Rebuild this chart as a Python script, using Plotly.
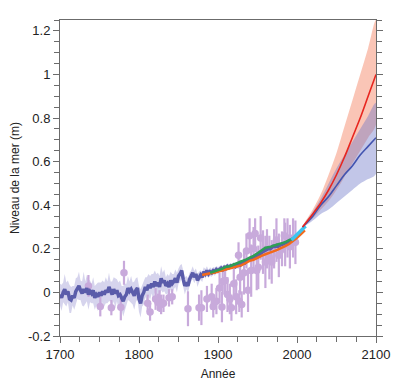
import plotly.graph_objects as go

# ---------------- data ----------------
# reconstruction (tide-gauge based), 1700-2000, every 2 years
rec_years = list(range(1700, 2001, 2))
rec_vals = [
    -0.010, -0.025, 0.000, 0.015, -0.010, 0.005, -0.030, -0.035, -0.015, -0.025,
    0.005, 0.020, 0.030, 0.010, -0.005, 0.015, 0.000, 0.020, -0.010, 0.005,
    -0.005, 0.010, -0.025, -0.010, -0.020, 0.000, -0.015, 0.005, -0.010, 0.010,
    0.000, 0.025, 0.005, -0.010, 0.015, -0.005, 0.010, -0.015, -0.010, -0.025,
    -0.040, -0.020, -0.010, 0.020, 0.005, 0.015, -0.005, -0.015, 0.010, 0.020,
    -0.030, -0.050, -0.015, 0.000, 0.025, 0.010, 0.035, 0.020, 0.040, 0.025,
    0.050, 0.030, 0.045, 0.025, 0.065, 0.045, 0.055, 0.030, 0.040, 0.025,
    0.055, 0.040, 0.050, 0.065, 0.045, 0.075, 0.085, 0.100, 0.060, 0.030,
    0.045, 0.030, 0.060, 0.075, 0.090, 0.070, 0.085, 0.055, 0.070, 0.080,
    0.070, 0.095, 0.085, 0.100, 0.085, 0.095, 0.090, 0.100, 0.095, 0.105,
    0.100, 0.108, 0.112, 0.105, 0.115, 0.110, 0.120, 0.115, 0.122, 0.118,
    0.125, 0.118, 0.122, 0.128, 0.125, 0.132, 0.138, 0.135, 0.145, 0.150,
    0.152, 0.158, 0.155, 0.162, 0.168, 0.165, 0.175, 0.180, 0.185, 0.190,
    0.195, 0.198, 0.202, 0.200, 0.208, 0.212, 0.210, 0.215, 0.212, 0.218,
    0.220, 0.222, 0.225, 0.228, 0.230, 0.232, 0.238, 0.242, 0.248, 0.252,
    0.262,
]
rec_unc = [
    0.050, 0.060, 0.045, 0.070, 0.055, 0.050, 0.065, 0.060, 0.045, 0.055,
    0.060, 0.050, 0.065, 0.045, 0.055, 0.080, 0.050, 0.060, 0.070, 0.050,
    0.045, 0.060, 0.055, 0.050, 0.065, 0.045, 0.060, 0.050, 0.055, 0.060,
    0.050, 0.065, 0.045, 0.060, 0.055, 0.070, 0.050, 0.060, 0.065, 0.055,
    0.070, 0.060, 0.050, 0.055, 0.045, 0.060, 0.050, 0.065, 0.055, 0.050,
    0.060, 0.065, 0.050, 0.055, 0.045, 0.060, 0.050, 0.055, 0.045, 0.060,
    0.050, 0.055, 0.045, 0.050, 0.055, 0.045, 0.050, 0.040, 0.045, 0.050,
    0.040, 0.045, 0.035, 0.040, 0.045, 0.035, 0.040, 0.030, 0.035, 0.040,
    0.030, 0.035, 0.030, 0.025, 0.030, 0.028, 0.025, 0.030, 0.025, 0.022,
    0.022, 0.020, 0.022, 0.020, 0.018, 0.020, 0.018, 0.017, 0.018, 0.016,
    0.016, 0.015, 0.015, 0.015, 0.014, 0.014, 0.014, 0.013, 0.013, 0.013,
    0.013, 0.012, 0.012, 0.012, 0.012, 0.012, 0.011, 0.011, 0.011, 0.011,
    0.011, 0.011, 0.010, 0.010, 0.010, 0.010, 0.010, 0.010, 0.010, 0.010,
    0.010, 0.010, 0.010, 0.010, 0.010, 0.010, 0.010, 0.010, 0.010, 0.010,
    0.010, 0.010, 0.010, 0.010, 0.010, 0.010, 0.010, 0.010, 0.010, 0.010,
    0.010,
]

# paleo / salt-marsh data points with error bars
paleo_years = [1736, 1751, 1765, 1777, 1781, 1811, 1814, 1821, 1824, 1826,
               1828, 1831, 1838, 1842, 1862, 1876, 1879, 1886, 1892, 1894,
               1898, 1902, 1905, 1906, 1909, 1912, 1915, 1917, 1920, 1923,
               1926, 1927, 1928, 1930, 1933, 1936, 1938, 1940, 1942, 1945,
               1947, 1949, 1951, 1954, 1957, 1960, 1962, 1965, 1968, 1971,
               1974, 1977, 1981, 1984, 1985, 1988, 1991, 1995, 1998]
paleo_vals = [0.030, -0.065, -0.070, -0.068, 0.090, -0.050, -0.090, -0.030, -0.045, -0.040,
              -0.055, -0.050, -0.025, -0.020, -0.075, -0.070, -0.070, -0.030, -0.020, -0.065,
              -0.040, 0.020, -0.067, 0.050, 0.055, -0.010, -0.030, -0.070, 0.040, -0.020,
              0.170, -0.040, 0.070, -0.055, 0.090, 0.190, 0.010, 0.260, 0.100, 0.200,
              0.270, 0.100, 0.115, 0.250, 0.185, 0.140, 0.200, 0.160, 0.140, 0.200,
              0.240, 0.170, 0.200, 0.260, 0.220, 0.250, 0.210, 0.250, 0.230]
paleo_err = [0.050, 0.045, 0.035, 0.060, 0.055, 0.040, 0.040, 0.050, 0.040, 0.050,
             0.045, 0.040, 0.040, 0.035, 0.080, 0.060, 0.080, 0.060, 0.060, 0.050,
             0.060, 0.070, 0.070, 0.060, 0.070, 0.080, 0.070, 0.060, 0.070, 0.080,
             0.060, 0.050, 0.080, 0.060, 0.100, 0.080, 0.100, 0.080, 0.120, 0.100,
             0.070, 0.090, 0.100, 0.100, 0.100, 0.120, 0.090, 0.100, 0.100, 0.090,
             0.100, 0.100, 0.080, 0.080, 0.100, 0.090, 0.100, 0.090, 0.100]

# tide-gauge reconstructions
green_years = list(range(1890, 1996, 5))
green_vals = [0.090, 0.095, 0.100, 0.108, 0.118, 0.120, 0.128, 0.135, 0.140, 0.150,
              0.160, 0.168, 0.180, 0.192, 0.205, 0.208, 0.215, 0.220, 0.225, 0.230,
              0.240, 0.248]
orange_years = list(range(1880, 2011, 5))
orange_vals = [0.080, 0.085, 0.088, 0.090, 0.095, 0.100, 0.105, 0.110, 0.112, 0.118,
               0.125, 0.135, 0.145, 0.150, 0.160, 0.168, 0.175, 0.180, 0.188, 0.195,
               0.202, 0.212, 0.222, 0.235, 0.250, 0.268, 0.285]
# satellite altimetry
cyan_years = [1993, 1995, 1997, 1999, 2001, 2003, 2005, 2007, 2009, 2011]
cyan_vals = [0.240, 0.248, 0.253, 0.258, 0.268, 0.276, 0.283, 0.290, 0.298, 0.304]

# projections
proj_years = [2007, 2020, 2030, 2040, 2050, 2060, 2070, 2080, 2090, 2100]
rcp85_mid = [0.30, 0.36, 0.41, 0.47, 0.54, 0.62, 0.71, 0.80, 0.90, 1.00]
rcp85_hi = [0.30, 0.38, 0.45, 0.54, 0.64, 0.76, 0.88, 1.00, 1.12, 1.25]
rcp85_lo = [0.30, 0.34, 0.38, 0.42, 0.47, 0.53, 0.59, 0.65, 0.71, 0.77]
rcp26_mid = [0.30, 0.35, 0.40, 0.44, 0.49, 0.54, 0.58, 0.63, 0.67, 0.71]
rcp26_hi = [0.30, 0.37, 0.43, 0.50, 0.57, 0.63, 0.69, 0.75, 0.81, 0.87]
rcp26_lo = [0.30, 0.33, 0.36, 0.38, 0.41, 0.44, 0.47, 0.50, 0.52, 0.545]

x_ticks = [1700, 1800, 1900, 2000, 2100]
y_ticks = [-0.2, 0, 0.2, 0.4, 0.6, 0.8, 1, 1.2]
y_ticklabels = ["-0.2", "0", "0.2", "0.4", "0.6", "0.8", "1", "1.2"]

# ---------------- figure ----------------
fig = go.Figure()

rec_hi = [v + u for v, u in zip(rec_vals, rec_unc)]
rec_lo = [v - u for v, u in zip(rec_vals, rec_unc)]
fig.add_trace(go.Scatter(
    x=rec_years + rec_years[::-1], y=rec_hi + rec_lo[::-1],
    fill="toself", fillcolor="rgba(165,160,215,0.45)",
    line=dict(width=0), mode="lines", hoverinfo="skip", showlegend=False))

fig.add_trace(go.Scatter(
    x=paleo_years, y=paleo_vals, mode="markers",
    marker=dict(size=7.5, color="#c8aadb"),
    error_y=dict(type="data", array=paleo_err, color="#c8aadb", thickness=2.2, width=0),
    showlegend=False))

fig.add_trace(go.Scatter(x=rec_years, y=rec_vals, mode="lines",
                         line=dict(color="#5a5caa", width=3.5), showlegend=False))
fig.add_trace(go.Scatter(x=orange_years, y=orange_vals, mode="lines",
                         line=dict(color="#f26a1b", width=2.5), showlegend=False))
fig.add_trace(go.Scatter(x=green_years, y=green_vals, mode="lines",
                         line=dict(color="#2e9e55", width=2.5), showlegend=False))
fig.add_trace(go.Scatter(x=cyan_years, y=cyan_vals, mode="lines",
                         line=dict(color="#3cc4f0", width=3.5), showlegend=False))

fig.add_trace(go.Scatter(
    x=proj_years + proj_years[::-1], y=rcp85_hi + rcp85_lo[::-1],
    fill="toself", fillcolor="rgba(245,140,110,0.5)", line=dict(width=0, shape="spline"),
    mode="lines", hoverinfo="skip", showlegend=False))
fig.add_trace(go.Scatter(
    x=proj_years + proj_years[::-1], y=rcp26_hi + rcp26_lo[::-1],
    fill="toself", fillcolor="rgba(110,120,200,0.42)", line=dict(width=0, shape="spline"),
    mode="lines", hoverinfo="skip", showlegend=False))
fig.add_trace(go.Scatter(x=proj_years, y=rcp26_mid, mode="lines",
                         line=dict(color="#4254b0", width=1.6, shape="spline"), showlegend=False))
fig.add_trace(go.Scatter(x=proj_years, y=rcp85_mid, mode="lines",
                         line=dict(color="#e8261f", width=1.6, shape="spline"), showlegend=False))

axis_col = "#6b6b6b"
fig.update_layout(
    width=392, height=377,
    margin=dict(l=52, r=24, t=12, b=49),
    paper_bgcolor="white", plot_bgcolor="white",
    font=dict(family="Liberation Sans, Arial, sans-serif", size=13, color="#222"),
    xaxis=dict(
        range=[1700, 2100], tickvals=x_ticks, ticks="outside", ticklen=6,
        tickcolor=axis_col, showline=True, linecolor=axis_col, linewidth=1,
        mirror=True, showgrid=False, zeroline=False, automargin=False,
        minor=dict(dtick=25, tick0=1700, ticks="outside", ticklen=5, tickcolor=axis_col),
        title=dict(text="Année", font=dict(size=12), standoff=9),
        tickfont=dict(size=13)),
    yaxis=dict(
        range=[-0.2, 1.25], tickvals=y_ticks, ticktext=y_ticklabels,
        ticks="outside", ticklen=6, tickcolor=axis_col,
        showline=True, linecolor=axis_col, linewidth=1, mirror="ticks",
        showgrid=False, zeroline=False, automargin=False,
        minor=dict(dtick=0.05, tick0=0, ticks="outside", ticklen=5, tickcolor=axis_col),
        title=dict(text="Niveau de la mer (m)", font=dict(size=12), standoff=11),
        tickfont=dict(size=13)),
)

fig.write_html("out.html")
